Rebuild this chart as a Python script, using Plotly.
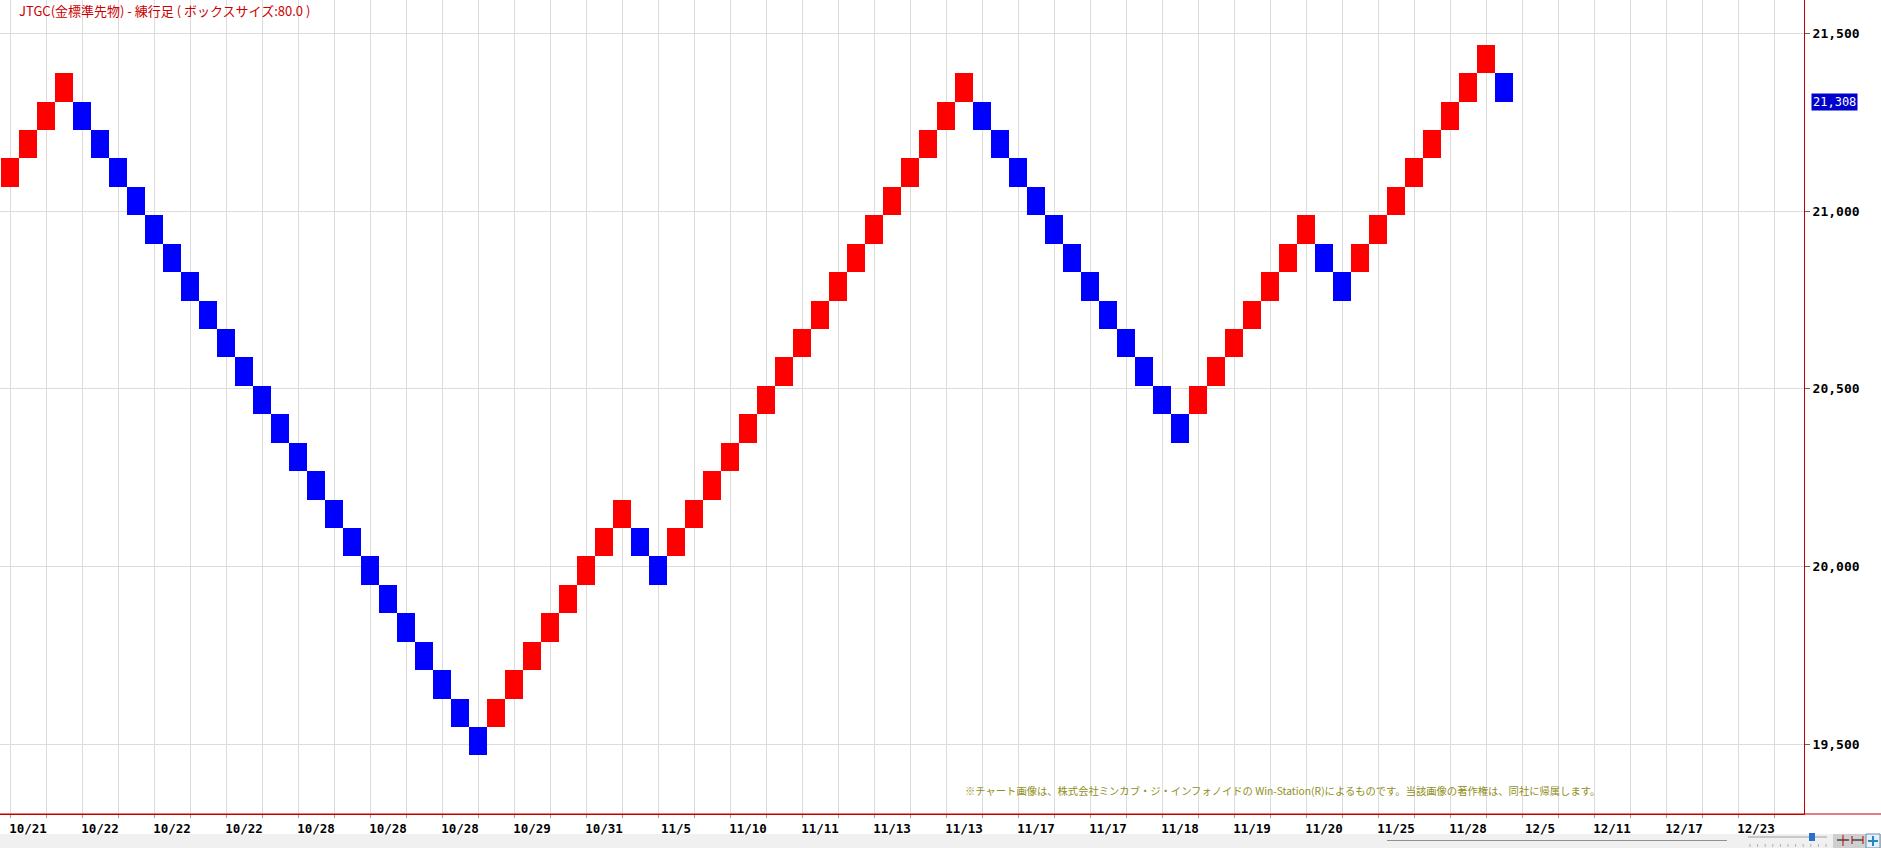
import plotly.graph_objects as go

# ---- data ----
box_size = 80
current_price = 21308

brick_low = [
    21068, 21148, 21228, 21308,
    21228, 21148, 21068, 20988, 20908, 20828, 20748, 20668, 20588, 20508, 20428, 20348,
    20268, 20188, 20108, 20028, 19948, 19868, 19788, 19708, 19628, 19548, 19468,
    19548, 19628, 19708, 19788, 19868, 19948, 20028, 20108,
    20028, 19948,
    20028, 20108, 20188, 20268, 20348, 20428, 20508, 20588, 20668, 20748, 20828, 20908,
    20988, 21068, 21148, 21228, 21308,
    21228, 21148, 21068, 20988, 20908, 20828, 20748, 20668, 20588, 20508, 20428, 20348,
    20428, 20508, 20588, 20668, 20748, 20828, 20908,
    20828, 20748,
    20828, 20908, 20988, 21068, 21148, 21228, 21308, 21388,
    21308,
]
brick_dir = (
    ["U"] * 4 + ["D"] * 23 + ["U"] * 8 + ["D"] * 2 + ["U"] * 17
    + ["D"] * 12 + ["U"] * 7 + ["D"] * 2 + ["U"] * 8 + ["D"] * 1
)

date_labels = [
    "10/21", "10/22", "10/22", "10/22", "10/28", "10/28", "10/28", "10/29", "10/31",
    "11/5", "11/10", "11/11", "11/13", "11/13", "11/17", "11/17", "11/18", "11/19",
    "11/20", "11/25", "11/28", "12/5", "12/11", "12/17", "12/23",
]
y_ticks = [19500, 20000, 20500, 21000, 21500]

title_text = "JTGC(金標準先物) - 練行足 ( ボックスサイズ:80.0 )"
note_text = ("※チャート画像は、株式会社ミンカブ・ジ・インフォノイドの Win-Station(R)によるものです。"
             "当該画像の著作権は、同社に帰属します。")

# ---- figure ----
W, H = 1881, 848
ML, MR, MT, MB = 0, 77, 0, 34
PW, PH = W - ML - MR, H - MT - MB

RED = "#ff0000"
BLUE = "#0000ff"
AXIS_RED = "#c00000"
GRID = "#dcdcdc"


def px(x):
    return x / PW


def py(y):
    return 1 - y / PH


idx = list(range(len(brick_low)))
colors = [RED if d == "U" else BLUE for d in brick_dir]

fig = go.Figure()
fig.add_trace(go.Bar(
    x=idx, y=[box_size] * len(idx), base=brick_low, width=1.0,
    marker=dict(color=colors, line=dict(width=0)),
    hoverinfo="skip",
))

label_pos = [1 + 4 * k for k in range(len(date_labels))]

fig.update_layout(
    width=W, height=H,
    margin=dict(l=ML, r=MR, t=MT, b=MB, pad=0),
    paper_bgcolor="white", plot_bgcolor="white",
    showlegend=False, bargap=0,
    xaxis=dict(
        range=[-10 / 18, (PW - 10) / 18],
        tickmode="array", tickvals=label_pos, ticktext=date_labels,
        ticks="outside", ticklen=3, tickcolor="rgba(0,0,0,0)",
        showgrid=False, zeroline=False,
        showline=True, linecolor=AXIS_RED, linewidth=1,
        tickfont=dict(family="DejaVu Sans Mono", size=12.5, color="black", weight="bold"),
        minor=dict(tick0=0, dtick=2, showgrid=True, gridcolor=GRID, gridwidth=1,
                   ticks="outside", ticklen=3, tickcolor="#999999"),
        fixedrange=True,
    ),
    yaxis=dict(
        side="right",
        range=[19303, 21594],
        tickmode="array", tickvals=y_ticks, tickformat=",d",
        ticks="outside", ticklen=5, tickcolor="#666666",
        showgrid=True, gridcolor=GRID, gridwidth=1, zeroline=False,
        showline=True, linecolor=AXIS_RED, linewidth=1,
        tickfont=dict(family="DejaVu Sans Mono", size=13, color="black", weight="bold"),
        fixedrange=True,
    ),
)

# bottom axis line extends across full width
fig.add_shape(type="line", xref="paper", yref="paper",
              x0=0, x1=px(W), y0=0, y1=0, line=dict(color=AXIS_RED, width=1))
# grey strip at the bottom
fig.add_shape(type="rect", xref="paper", yref="paper",
              x0=0, x1=px(W), y0=py(834), y1=py(H),
              fillcolor="#f0f0f0", line=dict(width=0), layer="below")
# scrollbar line
fig.add_shape(type="line", xref="paper", yref="paper",
              x0=px(1387), x1=px(1727), y0=py(840.5), y1=py(840.5),
              line=dict(color="#909090", width=1))
# zoom slider track + ticks + knob
fig.add_shape(type="line", xref="paper", yref="paper",
              x0=px(1748), x1=px(1827), y0=py(837), y1=py(837),
              line=dict(color="#c8c8c8", width=2))
for k in range(11):
    xx = 1750 + k * 7.6
    fig.add_shape(type="line", xref="paper", yref="paper",
                  x0=px(xx), x1=px(xx), y0=py(844), y1=py(847),
                  line=dict(color="#b0b0b0", width=1))
fig.add_shape(type="rect", xref="paper", yref="paper",
              x0=px(1809), x1=px(1815), y0=py(833), y1=py(841),
              fillcolor="#2a6fc9", line=dict(width=0))
# tool icons area
fig.add_shape(type="rect", xref="paper", yref="paper",
              x0=px(1833), x1=px(W), y0=py(834), y1=py(H),
              fillcolor="#cfcfcf", line=dict(width=0))
# icon 1 (black +|+)
fig.add_shape(type="line", xref="paper", yref="paper",
              x0=px(1837), x1=px(1849), y0=py(840), y1=py(840), line=dict(color="black", width=1))
fig.add_shape(type="line", xref="paper", yref="paper",
              x0=px(1843), x1=px(1843), y0=py(835), y1=py(846), line=dict(color="#c00000", width=1))
# icon 2 (red |<->|)
fig.add_shape(type="line", xref="paper", yref="paper",
              x0=px(1852), x1=px(1863), y0=py(840), y1=py(840), line=dict(color="black", width=1))
fig.add_shape(type="line", xref="paper", yref="paper",
              x0=px(1852), x1=px(1852), y0=py(836), y1=py(844), line=dict(color="#c00000", width=1))
fig.add_shape(type="line", xref="paper", yref="paper",
              x0=px(1863), x1=px(1863), y0=py(836), y1=py(844), line=dict(color="#c00000", width=1))
# icon 3 (blue cross in box)
fig.add_shape(type="rect", xref="paper", yref="paper",
              x0=px(1866), x1=px(1880), y0=py(834), y1=py(848),
              fillcolor="#e8eef4", line=dict(color="#6a8fb8", width=1))
fig.add_shape(type="line", xref="paper", yref="paper",
              x0=px(1868), x1=px(1878), y0=py(841), y1=py(841), line=dict(color="#1e88c8", width=2))
fig.add_shape(type="line", xref="paper", yref="paper",
              x0=px(1873), x1=px(1873), y0=py(836), y1=py(846), line=dict(color="#1e88c8", width=2))

# title
fig.add_annotation(xref="paper", yref="paper", x=px(17), y=py(11),
                   xanchor="left", yanchor="middle", showarrow=False,
                   text=title_text,
                   font=dict(family="Noto Sans CJK JP", size=13, color="#cc0000"))
# copyright note
fig.add_annotation(xref="paper", yref="paper", x=px(963), y=py(790),
                   xanchor="left", yanchor="middle", showarrow=False,
                   text=note_text,
                   font=dict(family="Noto Sans CJK JP", size=10.3, color="#8f8f1a"))
# current price label
fig.add_annotation(xref="paper", yref="y", x=px(1811), y=current_price,
                   xanchor="left", yanchor="middle", showarrow=False,
                   text=f"{current_price:,}", bgcolor="#0000cc", borderpad=1,
                   font=dict(family="DejaVu Sans Mono", size=12, color="white"))

fig.write_html("out.html", config={"displayModeBar": False},
               post_script="document.body.style.margin='0';document.body.style.overflow='hidden';")
